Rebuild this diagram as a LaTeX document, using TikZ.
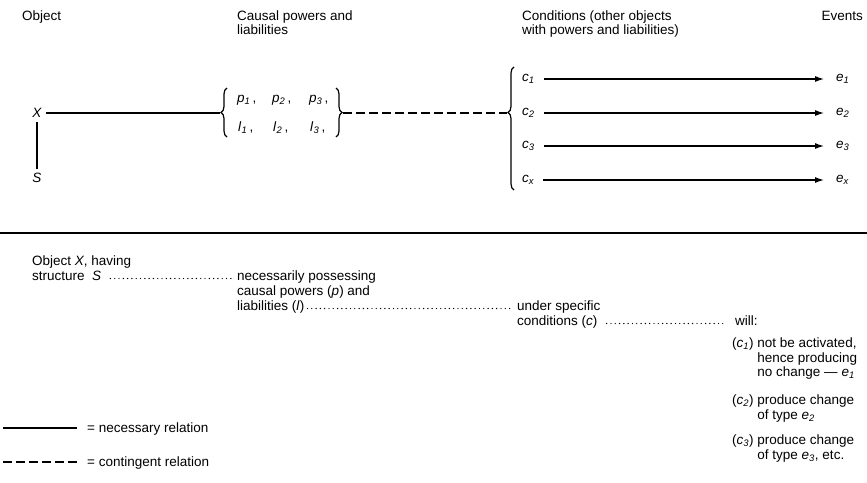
\documentclass[tikz,border=0pt]{standalone}
\usepackage{fontspec}
\setmainfont{Liberation Sans}
\usetikzlibrary{arrows.meta,decorations.pathreplacing}
\newcommand{\vsub}[2]{\textit{#1}\textsubscript{\textit{#2}}}
\tikzset{
  txt/.style={font=\fontsize{13.5}{15}\selectfont, inner sep=0pt, anchor=base west},
  sym/.style={font=\fontsize{13.5}{15}\selectfont\itshape, inner sep=1pt},
  necline/.style={line width=1.2pt},
  conline/.style={line width=1.2pt, dash pattern=on 9pt off 4pt},
  leader/.style={line width=1.4pt, line cap=round, dash pattern=on 0pt off 4.3pt},
  bracestyle/.style={line width=1.2pt, decorate, decoration={brace, amplitude=6pt}},
  arr/.style={line width=1.2pt, -{Latex[length=9pt,width=6pt]}},
  rule/.style={line width=1.8pt}
}
\begin{document}
\begin{tikzpicture}[x=1pt,y=-1pt]
\useasboundingbox (0,0) rectangle (867,482);

% headers
\node[txt] (hobj) at (22,20) {Object};
\node[txt] (hcp1) at (237,20) {Causal powers and};
\node[txt] (hcp2) at (237,34) {liabilities};
\node[txt] (hcon1) at (522,20) {Conditions (other objects};
\node[txt] (hcon2) at (522,34) {with powers and liabilities)};
\node[txt, anchor=base east] (hev) at (863,20) {Events};

% object and structure
\node[sym] (X) at (37,113) {X};
\node[sym] (S) at (37,178) {S};
\draw[necline] ([yshift=-3pt]X.south) -- ([yshift=3pt]S.north);

% powers and liabilities
\draw[bracestyle] (227,137) -- (227,88);
\coordinate (plL) at (220,113);
\draw[bracestyle] (336,88) -- (336,137);
\coordinate (plR) at (343,113);
\node[txt] (p1) at (237,102) {\vsub{p}{1}\,,};
\node[txt] (p2) at (272,102) {\vsub{p}{2}\,,};
\node[txt] (p3) at (309,102) {\vsub{p}{3}\,,};
\node[txt] (l1) at (238,131) {\vsub{l}{1}\,,};
\node[txt] (l2) at (273,131) {\vsub{l}{2}\,,};
\node[txt] (l3) at (310,131) {\vsub{l}{3}\,,};
\draw[necline] ([xshift=3pt]X.east) -- (plL);

% conditions
\draw[bracestyle, decoration={aspect=0.63}] (514,190) -- (514,67);
\coordinate (cL) at (507,113);
\draw[conline] (plR) -- (cL);

\node[sym, anchor=west] (c1) at (521,79) {c\textsubscript{1}};
\node[sym, anchor=west] (c2) at (521,113) {c\textsubscript{2}};
\node[sym, anchor=west] (c3) at (521,146) {c\textsubscript{3}};
\node[sym, anchor=west] (c4) at (521,180) {c\textsubscript{x}};
\node[sym, anchor=west] (e1) at (835,79) {e\textsubscript{1}};
\node[sym, anchor=west] (e2) at (835,113) {e\textsubscript{2}};
\node[sym, anchor=west] (e3) at (835,146) {e\textsubscript{3}};
\node[sym, anchor=west] (e4) at (835,180) {e\textsubscript{x}};
\foreach \i in {1,2,3,4}{
  \draw[arr] ([xshift=8pt]c\i.east) -- ([xshift=-11pt]e\i.west);
}

% separating rule
\coordinate (ruleL) at (0,233);
\coordinate (ruleR) at (867,233);
\draw[rule] (ruleL) -- (ruleR);

% lower description
\node[txt] (d1) at (32,265) {Object \textit{X}, having};
\node[txt] (d2) at (32,280) {structure \ \textit{S}};
\node[txt] (m1) at (237,280) {necessarily possessing};
\node[txt] (m2) at (237,295) {causal powers (\textit{p}) and};
\node[txt] (m3) at (237,310) {liabilities (\textit{l})};
\node[txt] (n1) at (517,310) {under specific};
\node[txt] (n2) at (517,325) {conditions (\textit{c})};
\node[txt] (w) at (735,325) {will:};
\draw[leader] ([xshift=9pt,yshift=1.5pt]d2.base east) -- ([xshift=-4pt,yshift=1.5pt]m1.base west);
\draw[leader] ([xshift=3pt,yshift=1.5pt]m3.base east) -- ([xshift=-4pt,yshift=1.5pt]n1.base west);
\draw[leader] ([xshift=9pt,yshift=1.5pt]n2.base east) -- ([xshift=-10pt,yshift=1.5pt]w.base west);

\node[txt] (r1) at (732,347) {(\vsub{c}{1}) not be activated,};
\node[txt] (r2) at (732,362) {\phantom{(\vsub{c}{1}) }hence producing};
\node[txt] (r3) at (732,376) {\phantom{(\vsub{c}{1}) }no change --- \vsub{e}{1}};
\node[txt] (s1) at (732,404) {(\vsub{c}{2}) produce change};
\node[txt] (s2) at (732,419) {\phantom{(\vsub{c}{2}) }of type \vsub{e}{2}};
\node[txt] (t1) at (732,444) {(\vsub{c}{3}) produce change};
\node[txt] (t2) at (732,459) {\phantom{(\vsub{c}{3}) }of type \vsub{e}{3}, etc.};

% legend
\coordinate (ka) at (3,428);
\coordinate (kb) at (3,462);
\node[txt] (k1) at (87,432) {= necessary relation};
\node[txt] (k2) at (87,466) {= contingent relation};
\draw[necline] (ka) -- ([xshift=-10pt]ka -| k1.west);
\draw[conline] (kb) -- ([xshift=-10pt]kb -| k2.west);
\end{tikzpicture}
\end{document}
